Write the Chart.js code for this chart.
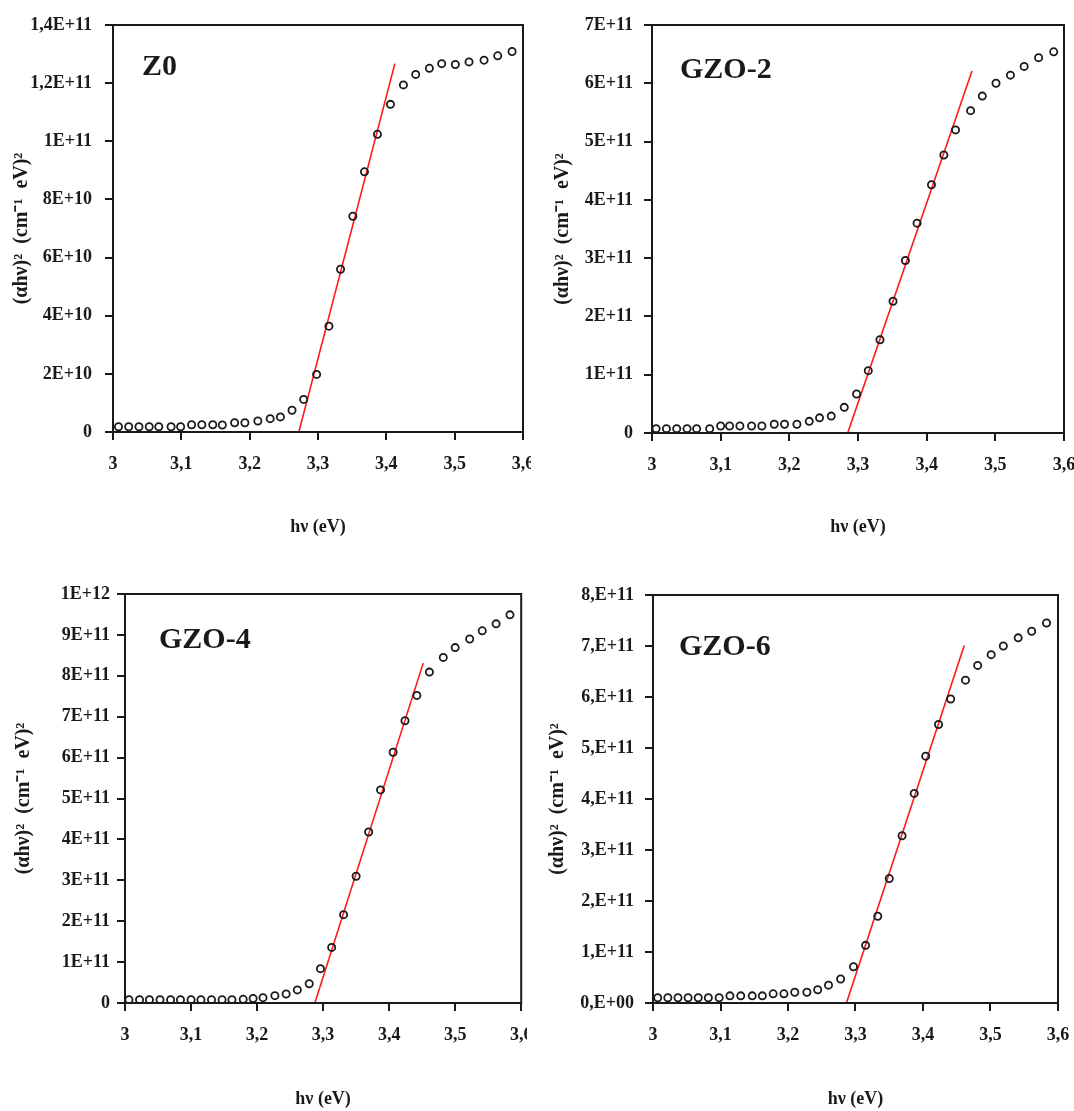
<!DOCTYPE html>
<html>
<head>
<meta charset="utf-8">
<script src="https://cdn.jsdelivr.net/npm/chart.js@4/dist/chart.umd.min.js"></script>
<style>
  html, body { margin: 0; padding: 0; background: #fff; }
  body { position: relative; width: 1074px; height: 1111px; overflow: hidden; }
  canvas { position: absolute; }
</style>
</head>
<body>
<canvas id="z0" width="531" height="545" style="left:0px;top:0px"></canvas>
<canvas id="gzo2" width="534" height="545" style="left:540px;top:0px"></canvas>
<canvas id="gzo4" width="527" height="551" style="left:0px;top:560px"></canvas>
<canvas id="gzo6" width="534" height="551" style="left:540px;top:560px"></canvas>
<script>
// x tick labels (same for all panels)
const xTickLabels = ["3", "3,1", "3,2", "3,3", "3,4", "3,5", "3,6"];

// Z0
const hvZ0 = [3.008, 3.023, 3.038, 3.053, 3.067, 3.085, 3.099, 3.115, 3.130, 3.146, 3.160, 3.178, 3.193, 3.212, 3.230, 3.245, 3.262, 3.279, 3.298, 3.316, 3.333, 3.351, 3.368, 3.387, 3.406, 3.425, 3.443, 3.463, 3.481, 3.501, 3.521, 3.543, 3.563, 3.584];
const alphaZ0 = [0.18e10, 0.18e10, 0.18e10, 0.18e10, 0.18e10, 0.18e10, 0.18e10, 0.25e10, 0.25e10, 0.25e10, 0.24e10, 0.32e10, 0.32e10, 0.38e10, 0.46e10, 0.52e10, 0.75e10, 1.12e10, 1.98e10, 3.64e10, 5.6e10, 7.42e10, 8.95e10, 10.24e10, 11.27e10, 11.94e10, 12.3e10, 12.51e10, 12.67e10, 12.64e10, 12.73e10, 12.79e10, 12.94e10, 13.09e10];
const fitHvZ0 = [3.272, 3.4125];
const fitZ0 = [0, 1.267e11];
const yLabelsZ0 = ["0", "2E+10", "4E+10", "6E+10", "8E+10", "1E+11", "1,2E+11", "1,4E+11"];

// GZO-2
const hvGZO2 = [3.006, 3.021, 3.036, 3.051, 3.065, 3.084, 3.100, 3.113, 3.128, 3.145, 3.160, 3.178, 3.193, 3.211, 3.229, 3.244, 3.261, 3.280, 3.298, 3.315, 3.332, 3.351, 3.369, 3.386, 3.407, 3.425, 3.442, 3.464, 3.481, 3.501, 3.522, 3.542, 3.563, 3.585];
const alphaGZO2 = [0.75e10, 0.75e10, 0.75e10, 0.75e10, 0.75e10, 0.75e10, 1.2e10, 1.2e10, 1.2e10, 1.2e10, 1.2e10, 1.5e10, 1.5e10, 1.5e10, 2.0e10, 2.6e10, 2.9e10, 4.4e10, 6.7e10, 10.7e10, 16.0e10, 22.6e10, 29.6e10, 36.0e10, 42.6e10, 47.7e10, 52.0e10, 55.3e10, 57.8e10, 60.0e10, 61.4e10, 62.9e10, 64.4e10, 65.4e10];
const fitHvGZO2 = [3.285, 3.466];
const fitGZO2 = [0, 6.21e11];
const yLabelsGZO2 = ["0", "1E+11", "2E+11", "3E+11", "4E+11", "5E+11", "6E+11", "7E+11"];

// GZO-4
const hvGZO4 = [3.006, 3.022, 3.037, 3.053, 3.069, 3.084, 3.100, 3.115, 3.131, 3.147, 3.162, 3.179, 3.194, 3.209, 3.227, 3.244, 3.261, 3.279, 3.296, 3.313, 3.331, 3.350, 3.369, 3.387, 3.406, 3.424, 3.442, 3.461, 3.482, 3.500, 3.522, 3.541, 3.562, 3.583];
const alphaGZO4 = [0.8e10, 0.8e10, 0.8e10, 0.8e10, 0.8e10, 0.8e10, 0.8e10, 0.8e10, 0.8e10, 0.8e10, 0.8e10, 0.9e10, 1.1e10, 1.3e10, 1.8e10, 2.2e10, 3.2e10, 4.7e10, 8.4e10, 13.6e10, 21.6e10, 31.0e10, 41.8e10, 52.1e10, 61.3e10, 69.0e10, 75.2e10, 80.9e10, 84.5e10, 86.9e10, 89.0e10, 91.0e10, 92.7e10, 94.9e10];
const fitHvGZO4 = [3.2875, 3.4516];
const fitGZO4 = [0, 8.31e11];
const yLabelsGZO4 = ["0", "1E+11", "2E+11", "3E+11", "4E+11", "5E+11", "6E+11", "7E+11", "8E+11", "9E+11", "1E+12"];

// GZO-6
const hvGZO6 = [3.007, 3.022, 3.037, 3.052, 3.067, 3.082, 3.098, 3.114, 3.130, 3.147, 3.162, 3.178, 3.194, 3.210, 3.228, 3.244, 3.260, 3.278, 3.297, 3.315, 3.333, 3.350, 3.369, 3.387, 3.404, 3.423, 3.441, 3.463, 3.481, 3.501, 3.519, 3.541, 3.561, 3.583];
const alphaGZO6 = [1.04e10, 1.04e10, 1.04e10, 1.04e10, 1.04e10, 1.04e10, 1.04e10, 1.4e10, 1.4e10, 1.4e10, 1.4e10, 1.8e10, 1.8e10, 2.1e10, 2.1e10, 2.6e10, 3.5e10, 4.7e10, 7.1e10, 11.3e10, 17.0e10, 24.4e10, 32.8e10, 41.1e10, 48.4e10, 54.6e10, 59.6e10, 63.3e10, 66.2e10, 68.3e10, 70.0e10, 71.6e10, 72.9e10, 74.5e10];
const fitHvGZO6 = [3.2866, 3.4611];
const fitGZO6 = [0, 7.01e11];
const yLabelsGZO6 = ["0,E+00", "1,E+11", "2,E+11", "3,E+11", "4,E+11", "5,E+11", "6,E+11", "7,E+11", "8,E+11"];

const ink = "#1a1a1a";
const serif = "'Liberation Serif', 'Times New Roman', serif";
const tickFont = { family: serif, size: 18, weight: "bold" };
const titleFont = { family: serif, size: 18, weight: "bold" };
const yTitleFont = { family: serif, size: 20, weight: "bold" };

// box around the plot area + sample name
const framePlugin = {
    id: "frame",
    afterDraw(chart, args, opts) {
        const { ctx, chartArea: a } = chart;
        ctx.save();
        ctx.strokeStyle = ink;
        ctx.lineWidth = 2;
        ctx.strokeRect(a.left, a.top, a.right - a.left, a.bottom - a.top);
        ctx.fillStyle = ink;
        ctx.font = "bold 30px " + serif;
        ctx.textAlign = "left";
        ctx.textBaseline = "middle";
        ctx.fillText(opts.label, a.left + opts.dx, a.top + opts.dy);
        ctx.restore();
    }
};

function pts(xs, ys) {
    return xs.map((x, i) => ({ x: x, y: ys[i] }));
}

function makePanel(id, p) {
    const ctx = document.getElementById(id).getContext("2d");
    return new Chart(ctx, {
        type: "scatter",
        data: {
            datasets: [{
                data: pts(p.hv, p.alpha),
                showLine: false,
                pointStyle: "circle",
                pointRadius: 3.6,
                pointBorderWidth: 1.8,
                pointBorderColor: ink,
                pointBackgroundColor: "rgba(0,0,0,0)",
                order: 0
            }, {
                data: pts(p.fitHv, p.fit),
                showLine: true,
                borderColor: "#ff1a1a",
                borderWidth: 1.6,
                pointRadius: 0,
                order: 1
            }]
        },
        options: {
            responsive: false,
            animation: false,
            events: [],
            layout: { padding: { top: p.padTop, right: p.padRight, bottom: 0, left: 0 } },
            plugins: {
                legend: { display: false },
                tooltip: { enabled: false },
                frame: { label: p.label, dx: p.dx, dy: p.dy }
            },
            scales: {
                x: {
                    type: "linear",
                    min: 3,
                    max: 3.6,
                    ticks: {
                        stepSize: 0.1,
                        autoSkip: false,
                        maxRotation: 0,
                        padding: 14,
                        color: ink,
                        font: tickFont,
                        callback: v => xTickLabels[Math.round((v - 3) * 10)]
                    },
                    grid: { drawOnChartArea: false, tickLength: 8, color: ink, lineWidth: 2 },
                    border: { color: ink, width: 2 },
                    title: {
                        display: true,
                        text: "hν (eV)",
                        color: ink,
                        font: titleFont,
                        padding: { top: 0, bottom: p.xTitlePad }
                    },
                    afterFit: s => {
                        s.height = p.axisH;
                        s.paddingLeft = 0;
                        s.paddingRight = 0;
                    }
                },
                y: {
                    min: 0,
                    max: p.yMax,
                    ticks: {
                        stepSize: p.yStep,
                        autoSkip: false,
                        padding: p.yPad,
                        color: ink,
                        font: tickFont,
                        callback: v => p.yLabels[Math.round(v / p.yStep)]
                    },
                    grid: { drawOnChartArea: false, tickLength: 8, color: ink, lineWidth: 2 },
                    border: { color: ink, width: 2 },
                    title: {
                        display: true,
                        text: "(αhν)²  (cm⁻¹  eV)²",
                        color: ink,
                        font: yTitleFont,
                        padding: { top: p.yTitlePad, bottom: 0 }
                    },
                    afterFit: s => {
                        s.width = p.axisW;
                        s.paddingTop = 0;
                        s.paddingBottom = 0;
                    }
                }
            }
        },
        plugins: [framePlugin]
    });
}

makePanel("z0", {
    hv: hvZ0, alpha: alphaZ0, fitHv: fitHvZ0, fit: fitZ0,
    yMax: 1.4e11, yStep: 2e10, yLabels: yLabelsZ0, label: "Z0",
    axisW: 113, axisH: 113, padTop: 25, padRight: 8,
    yPad: 13, yTitlePad: 10, xTitlePad: 7, dx: 29, dy: 42
});
makePanel("gzo2", {
    hv: hvGZO2, alpha: alphaGZO2, fitHv: fitHvGZO2, fit: fitGZO2,
    yMax: 7e11, yStep: 1e11, yLabels: yLabelsGZO2, label: "GZO-2",
    axisW: 112, axisH: 112, padTop: 25, padRight: 10,
    yPad: 11, yTitlePad: 11, xTitlePad: 7, dx: 28, dy: 45
});
makePanel("gzo4", {
    hv: hvGZO4, alpha: alphaGZO4, fitHv: fitHvGZO4, fit: fitGZO4,
    yMax: 1e12, yStep: 1e11, yLabels: yLabelsGZO4, label: "GZO-4",
    axisW: 125, axisH: 108, padTop: 34, padRight: 4,
    yPad: 7, yTitlePad: 12, xTitlePad: 1, dx: 34, dy: 46
});
makePanel("gzo6", {
    hv: hvGZO6, alpha: alphaGZO6, fitHv: fitHvGZO6, fit: fitGZO6,
    yMax: 8e11, yStep: 1e11, yLabels: yLabelsGZO6, label: "GZO-6",
    axisW: 113, axisH: 108, padTop: 35, padRight: 16,
    yPad: 11, yTitlePad: 6, xTitlePad: 1, dx: 26, dy: 52
});
</script>
</body>
</html>
